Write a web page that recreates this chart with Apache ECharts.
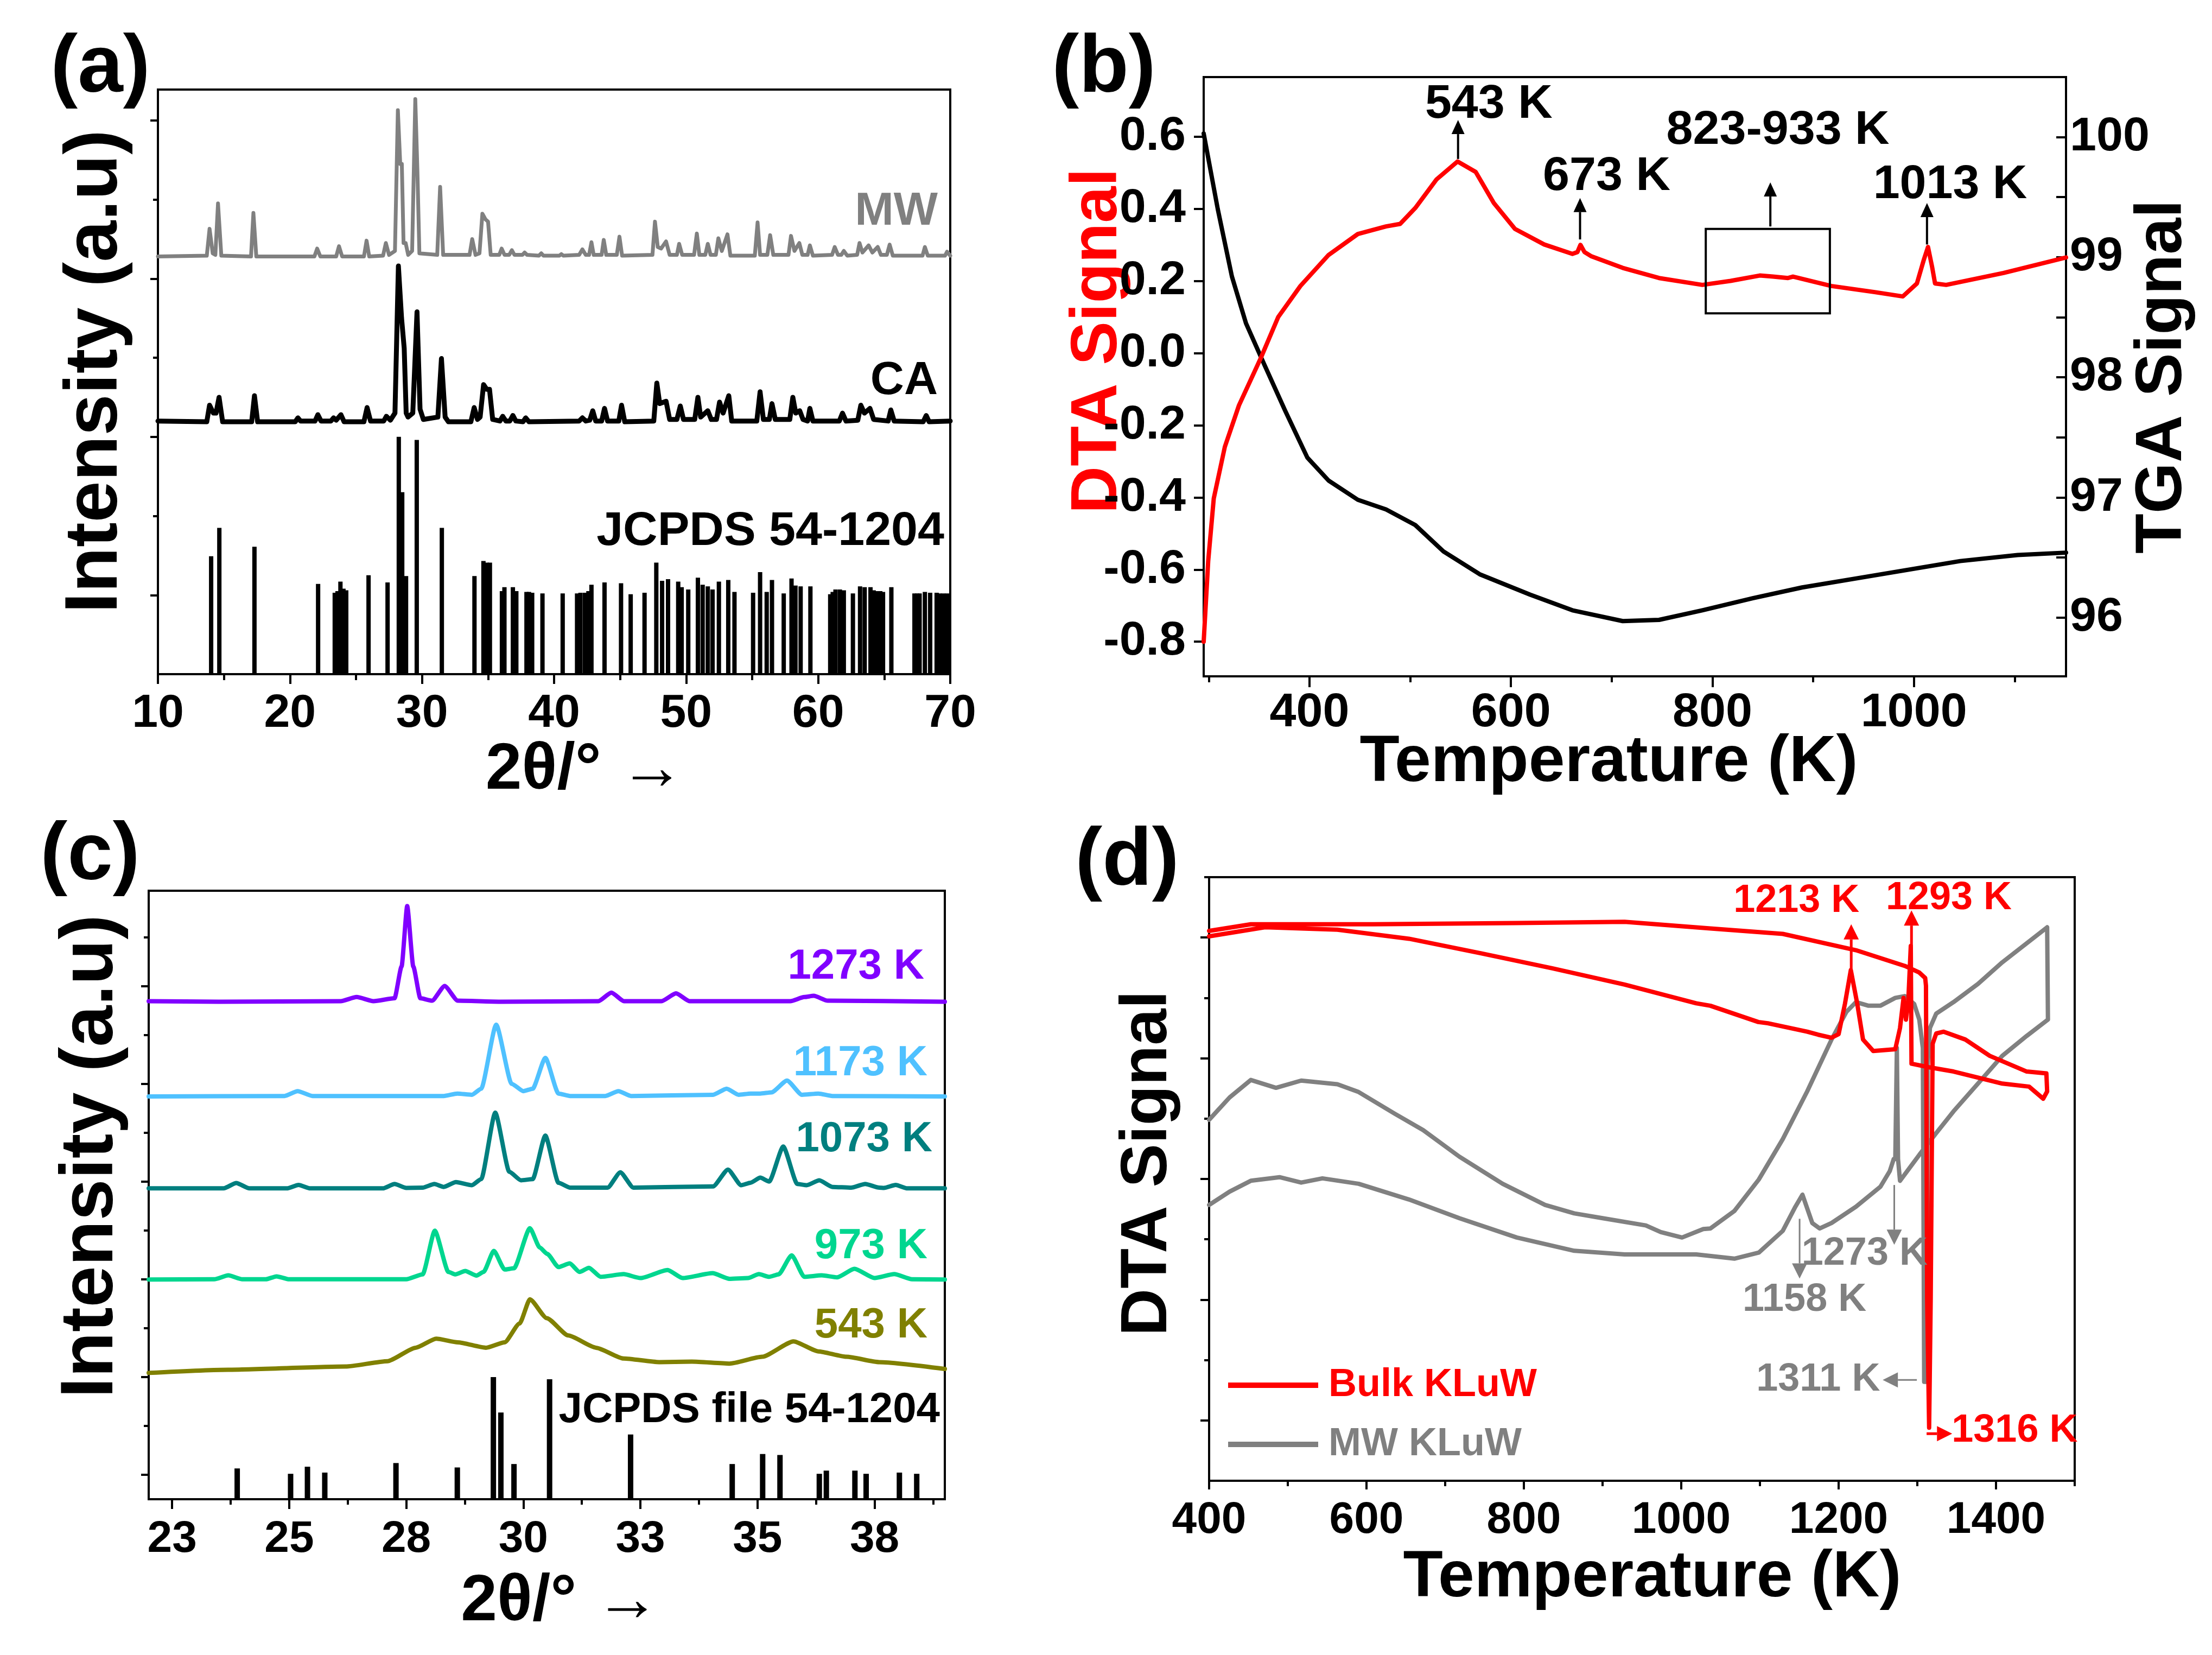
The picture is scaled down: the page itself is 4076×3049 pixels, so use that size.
<!DOCTYPE html>
<html>
<head>
<meta charset="utf-8">
<script src="https://cdn.jsdelivr.net/npm/echarts@6/dist/echarts.min.js"></script>
<style>
html,body{margin:0;padding:0;background:#fff;}
#main{width:4076px;height:3049px;}
</style>
</head>
<body>
<div id="main"></div>
<script>
const FONT = '"Liberation Sans", Arial, Helvetica, sans-serif';

// ---------------- Panel (a): XRD, MW / CA / JCPDS 54-1204 ----------------
const xTicksA = [10, 20, 30, 40, 50, 60, 70];
const xMinorA = [15, 25, 35, 45, 55, 65];
const xrdMW = [[10,5.28],[13.7,5.29],[13.91,5.63],[14.15,5.32],[14.35,5.3],[14.55,5.95],[14.8,5.29],[17.05,5.28],[17.23,5.83],[17.45,5.28],[21.85,5.28],[22.06,5.38],[22.3,5.28],[23.5,5.28],[23.71,5.41],[23.95,5.28],[25.6,5.28],[25.8,5.48],[26.0,5.28],[27.05,5.29],[27.26,5.45],[27.5,5.3],[27.95,5.35],[28.17,7.13],[28.35,6.45],[28.47,6.45],[28.6,5.45],[28.76,5.45],[28.95,5.3],[29.25,5.35],[29.49,7.27],[29.65,6.36],[29.8,5.32],[31.15,5.3],[31.37,6.16],[31.6,5.3],[33.6,5.3],[33.8,5.5],[34.05,5.3],[34.35,5.32],[34.57,5.82],[34.8,5.75],[35.0,5.72],[35.2,5.3],[35.85,5.3],[36.03,5.38],[36.25,5.3],[36.6,5.3],[36.8,5.36],[37.0,5.3],[37.6,5.3],[37.77,5.33],[37.95,5.3],[38.85,5.29],[39.03,5.32],[39.2,5.29],[40.4,5.29],[40.55,5.31],[40.7,5.29],[41.9,5.3],[42.14,5.37],[42.4,5.3],[42.65,5.3],[42.83,5.46],[43.0,5.3],[43.6,5.3],[43.76,5.49],[43.95,5.3],[44.75,5.3],[44.95,5.53],[45.15,5.29],[47.45,5.3],[47.64,5.72],[47.85,5.4],[48.1,5.38],[48.48,5.47],[48.75,5.3],[49.3,5.3],[49.47,5.44],[49.7,5.3],[50.6,5.3],[50.81,5.57],[51.0,5.3],[51.45,5.3],[51.64,5.44],[51.85,5.3],[52.25,5.3],[52.44,5.51],[52.7,5.35],[53.13,5.56],[53.35,5.29],[55.2,5.29],[55.41,5.71],[55.6,5.3],[56.15,5.3],[56.36,5.55],[56.6,5.3],[57.75,5.3],[57.94,5.54],[58.2,5.35],[58.57,5.45],[58.8,5.3],[59.2,5.3],[59.37,5.42],[59.6,5.29],[61.05,5.3],[61.25,5.4],[61.5,5.3],[61.75,5.3],[61.94,5.35],[62.2,5.29],[62.95,5.3],[63.13,5.45],[63.35,5.33],[63.82,5.42],[64.1,5.33],[64.51,5.4],[64.75,5.3],[65.2,5.3],[65.41,5.43],[65.65,5.29],[67.9,5.29],[68.08,5.4],[68.3,5.29],[69.6,5.29],[69.76,5.34],[70,5.29]];
const xrdCA = [[10,3.2],[13.7,3.19],[13.91,3.40],[14.2,3.3],[14.4,3.3],[14.63,3.50],[14.9,3.19],[17.1,3.19],[17.31,3.52],[17.55,3.19],[20.4,3.19],[20.6,3.24],[20.8,3.2],[21.9,3.2],[22.11,3.28],[22.35,3.2],[23.1,3.2],[23.3,3.24],[23.5,3.21],[23.86,3.28],[24.1,3.19],[25.6,3.19],[25.84,3.37],[26.1,3.2],[27.1,3.2],[27.3,3.26],[27.6,3.21],[27.95,3.3],[28.21,5.16],[28.45,4.5],[28.65,4.12],[28.8,3.3],[28.94,3.25],[29.3,3.3],[29.62,4.58],[29.85,3.35],[30.1,3.22],[31.2,3.25],[31.47,3.99],[31.75,3.25],[32.0,3.19],[33.7,3.19],[33.95,3.37],[34.2,3.22],[34.4,3.25],[34.66,3.66],[34.9,3.6],[35.11,3.60],[35.35,3.22],[35.9,3.2],[36.11,3.26],[36.35,3.2],[36.65,3.2],[36.88,3.27],[37.1,3.2],[37.65,3.19],[37.85,3.24],[38.1,3.19],[41.9,3.2],[42.14,3.24],[42.4,3.2],[42.7,3.21],[42.93,3.33],[43.15,3.2],[43.6,3.2],[43.82,3.36],[44.05,3.2],[44.9,3.2],[45.11,3.40],[45.35,3.19],[47.55,3.2],[47.78,3.68],[48.0,3.42],[48.48,3.45],[48.75,3.22],[49.3,3.22],[49.56,3.39],[49.8,3.22],[50.65,3.22],[50.89,3.50],[51.1,3.25],[51.64,3.33],[51.9,3.22],[52.3,3.22],[52.53,3.44],[52.8,3.3],[53.23,3.52],[53.45,3.2],[55.35,3.2],[55.6,3.57],[55.85,3.22],[56.3,3.22],[56.5,3.42],[56.75,3.22],[57.85,3.22],[58.08,3.50],[58.3,3.3],[58.6,3.33],[58.85,3.22],[59.2,3.2],[59.37,3.36],[59.6,3.2],[61.6,3.2],[61.84,3.30],[62.1,3.2],[63.0,3.21],[63.23,3.40],[63.5,3.3],[63.92,3.36],[64.2,3.22],[65.3,3.2],[65.5,3.34],[65.75,3.2],[67.95,3.19],[68.18,3.27],[68.4,3.19],[70,3.2]];
const jcpdsA = [[14.03,1.49],[14.65,1.85],[17.31,1.61],[22.13,1.14],[23.39,1.03],[23.6,1.05],[23.82,1.17],[24.05,1.08],[24.26,1.06],[25.95,1.25],[27.39,1.16],[28.24,3.0],[28.5,2.30],[28.79,1.24],[29.6,2.96],[31.5,1.85],[33.97,1.24],[34.65,1.43],[34.9,1.41],[35.14,1.41],[36.05,1.05],[36.24,1.10],[36.88,1.10],[37.14,1.05],[37.91,1.04],[38.1,1.04],[38.34,1.03],[39.12,1.02],[40.65,1.02],[41.74,1.02],[42.0,1.03],[42.34,1.03],[42.6,1.05],[42.83,1.13],[43.82,1.16],[45.07,1.15],[45.8,1.01],[46.85,1.03],[47.74,1.41],[48.18,1.18],[48.63,1.20],[49.4,1.17],[49.66,1.10],[50.16,1.07],[50.89,1.22],[51.25,1.13],[51.64,1.11],[52.0,1.07],[52.48,1.17],[53.19,1.19],[53.66,1.04],[55.07,1.03],[55.6,1.29],[56.1,1.04],[56.5,1.19],[57.39,1.02],[57.98,1.21],[58.28,1.12],[58.67,1.11],[59.41,1.11],[60.91,1.01],[61.1,1.04],[61.31,1.07],[61.64,1.07],[61.94,1.06],[62.63,1.02],[63.17,1.11],[63.52,1.10],[63.96,1.10],[64.2,1.06],[64.42,1.05],[64.7,1.05],[64.91,1.04],[65.54,1.10],[67.29,1.02],[67.5,1.02],[67.68,1.02],[68.08,1.04],[68.48,1.03],[68.97,1.03],[69.2,1.02],[69.47,1.02],[69.76,1.02]];
const yTicksA = [1, 3, 5, 7];
const yMinorA = [2, 4, 6];

// ---------------- Panel (b): DTA / TGA ----------------
const xTicksB = [400, 600, 800, 1000];
const xMinorB = [300, 500, 700, 900, 1100];
const dtaTicks = [-0.8, -0.6, -0.4, -0.2, 0, 0.2, 0.4, 0.6];
const tgaLabels = [96, 97, 98, 99, 100];
const tgaTicks = [96, 96.5, 97, 97.5, 98, 98.5, 99, 99.5, 100];
const dtaB = [[295,-0.80],[299.5,-0.576],[305,-0.403],[316,-0.26],[330,-0.145],[351.5,-0.015],[369,0.10],[391,0.186],[419,0.272],[448,0.33],[476,0.351],[490,0.358],[505,0.402],[526,0.481],[547,0.531],[565,0.502],[583,0.416],[604,0.344],[633,0.301],[661,0.275],[666,0.28],[669,0.30],[673,0.28],[680,0.268],[711,0.236],[747,0.208],[790,0.189],[818,0.20],[847,0.215],[860,0.212],[875,0.208],[880,0.212],[918,0.186],[961,0.169],[989,0.157],[1003,0.193],[1010,0.26],[1014,0.294],[1018,0.24],[1021,0.193],[1032,0.189],[1089,0.222],[1151,0.265]];
const tgaB = [[295,100.03],[309,99.40],[323,98.84],[337,98.45],[355,98.11],[376,97.72],[398,97.33],[419,97.14],[448,96.98],[476,96.90],[505,96.77],[533,96.55],[569,96.36],[619,96.19],[661,96.06],[711,95.97],[747,95.98],[790,96.06],[840,96.16],[889,96.25],[946,96.33],[996,96.40],[1046,96.47],[1103,96.52],[1151,96.54]];
const annotB = [
  {text: '543 K', at: [578, 0.689], from: [547.5, 0.538], to: [547.5, 0.646]},
  {text: '673 K', at: [695, 0.488], from: [668.6, 0.315], to: [668.6, 0.430]},
  {text: '823-933 K', at: [865, 0.617], from: [857.5, 0.351], to: [857.5, 0.473]},
  {text: '1013 K', at: [1036, 0.466], from: [1013, 0.301], to: [1013, 0.416]}
];
const boxB = [[793.4, 0.344], [916.6, 0.110]];

// ---------------- Panel (c): XRD vs annealing temperature ----------------
const xTicksC = [22.5, 25, 27.5, 30, 32.5, 35, 37.5];
const xMinorC = [23.75, 26.25, 28.75, 31.25, 33.75, 36.25, 38.75];
const yTicksC = [1, 5, 9, 13, 17, 21];
const yMinorC = [3, 7, 11, 15, 19, 23];
const xrd1273 = [[22,20.38],[23.5,20.36],[26.1,20.38],[26.44,20.55],[26.8,20.38],[27.25,20.5],[27.4,21.8],[27.52,24.27],[27.65,21.8],[27.8,20.5],[28.05,20.4],[28.32,21.0],[28.6,20.4],[29.5,20.36],[31.6,20.38],[31.88,20.73],[32.15,20.38],[32.95,20.38],[33.26,20.7],[33.55,20.38],[35.7,20.38],[36.0,20.55],[36.2,20.6],[36.5,20.4],[39,20.36]];
const xrd1173 = [[22,16.48],[24.9,16.5],[25.18,16.7],[25.5,16.5],[28.3,16.5],[28.59,16.6],[28.9,16.55],[29.1,16.8],[29.42,19.42],[29.75,17.0],[30.0,16.7],[30.2,16.8],[30.47,18.06],[30.75,16.6],[31.0,16.5],[31.75,16.5],[32.03,16.7],[32.3,16.5],[34.05,16.55],[34.34,16.8],[34.6,16.55],[34.85,16.6],[35.06,16.6],[35.3,16.65],[35.63,17.13],[35.95,16.55],[36.3,16.6],[36.6,16.5],[39,16.48]];
const xrd1073 = [[22,12.72],[23.6,12.72],[23.87,12.94],[24.15,12.72],[24.95,12.72],[25.2,12.86],[25.45,12.72],[27.0,12.72],[27.25,12.9],[27.5,12.74],[27.85,12.75],[28.1,12.9],[28.3,12.78],[28.56,12.98],[28.9,12.85],[29.1,13.1],[29.40,15.82],[29.7,13.4],[29.95,13.05],[30.2,13.1],[30.47,14.88],[30.75,12.95],[31.0,12.75],[31.8,12.75],[32.07,13.38],[32.35,12.75],[34.05,12.8],[34.37,13.49],[34.65,12.85],[34.85,12.95],[35.06,13.16],[35.25,13.0],[35.55,14.43],[35.85,12.9],[36.05,12.85],[36.32,13.05],[36.6,12.78],[37.0,12.75],[37.3,12.9],[37.6,12.75],[37.7,12.74],[37.95,12.86],[38.2,12.72],[39,12.72]];
const xrd973 = [[22,8.99],[23.4,9.0],[23.7,9.16],[24.0,9.0],[24.5,9.0],[24.73,9.12],[25.0,9.0],[27.5,9.0],[27.85,9.2],[28.11,10.99],[28.4,9.3],[28.55,9.2],[28.76,9.34],[29.0,9.15],[29.15,9.3],[29.37,10.16],[29.6,9.4],[29.8,9.45],[30.14,11.09],[30.35,10.3],[30.51,10.04],[30.75,9.5],[30.99,9.65],[31.2,9.3],[31.4,9.47],[31.65,9.1],[32.14,9.21],[32.5,9.05],[33.08,9.38],[33.4,9.05],[34.04,9.25],[34.4,9.02],[34.8,9.05],[35.03,9.21],[35.25,9.1],[35.45,9.2],[35.73,9.98],[36.0,9.1],[36.37,9.16],[36.7,9.08],[37.07,9.43],[37.5,9.05],[37.92,9.21],[38.3,9.0],[39,8.99]];
const xrd543 = [[22,5.17],[23.7,5.30],[26.2,5.43],[27.1,5.65],[27.7,6.2],[28.14,6.57],[28.6,6.42],[29.2,6.2],[29.6,6.42],[29.92,7.19],[30.14,8.18],[30.5,7.41],[30.96,6.7],[31.55,6.2],[32.14,5.76],[32.9,5.61],[33.6,5.63],[34.4,5.55],[35.1,5.83],[35.77,6.46],[36.3,6.05],[36.9,5.83],[37.6,5.61],[39,5.33]];
const jcpdsC = [[23.89,1.26],[25.03,1.04],[25.39,1.33],[25.76,1.09],[27.28,1.48],[28.59,1.30],[29.36,5.0],[29.52,3.55],[29.8,1.44],[30.56,4.91],[32.29,2.65],[34.46,1.44],[35.11,1.85],[35.48,1.81],[36.32,1.04],[36.47,1.17],[37.08,1.17],[37.32,1.04],[38.03,1.09],[38.4,1.04]];
const namesC = ['1273 K', '1173 K', '1073 K', '973 K', '543 K'];
const colorsC = ['#8000FF', '#4FC1FF', '#007F7F', '#00D68F', '#808000'];

// ---------------- Panel (d): DTA of bulk and MW KLuW ----------------
const xTicksD = [400, 600, 800, 1000, 1200, 1400];
const xMinorD = [500, 700, 900, 1100, 1300, 1500];
const yTicksD = [1, 3, 5, 7, 9];
const yMinorD = [2, 4, 6, 8, 10];
const bulkD = [[400,9.02],[471,9.17],[563,9.13],[654,8.98],[745,8.74],[836,8.49],[928,8.22],[1019,7.91],[1037,7.87],[1098,7.60],[1110,7.58],[1160,7.44],[1174,7.39],[1191,7.34],[1200,7.40],[1208,7.90],[1215.5,8.46],[1223.7,7.90],[1231,7.31],[1244,7.12],[1272,7.15],[1278,7.50],[1282.5,8.0],[1285.5,7.64],[1288.6,7.97],[1291.7,8.86],[1292.6,6.91],[1315,6.85],[1346,6.78],[1408,6.58],[1442,6.53],[1460,6.33],[1465,6.45],[1464,6.75],[1439,6.78],[1392,7.04],[1361,7.31],[1333.5,7.44],[1324,7.41],[1319.5,7.24],[1317,3.0],[1315,0.88],[1312.5,3.0],[1311,8.2],[1310,8.33],[1302.5,8.42],[1284,8.53],[1222,8.79],[1129,9.06],[1037,9.15],[928,9.26],[791,9.24],[608,9.22],[453,9.22],[400,9.11]];
const mwD = [[400,5.98],[426,6.35],[453,6.64],[485,6.51],[517,6.63],[563,6.57],[590,6.44],[636,6.08],[672,5.81],[718,5.37],[773,4.92],[827,4.57],[864,4.43],[900,4.35],[955,4.23],[974,4.12],[1001,4.03],[1028,4.17],[1037,4.18],[1067.5,4.47],[1098.5,4.99],[1129,5.66],[1160,6.45],[1191,7.31],[1210,7.77],[1222,7.93],[1238,7.87],[1253,7.87],[1272,8.0],[1284,8.03],[1296,7.90],[1302.5,7.64],[1307,7.17],[1308.7,1.64],[1312,1.64],[1313,6.84],[1316,7.50],[1324,7.74],[1346,7.93],[1377,8.23],[1408,8.59],[1465,9.17],[1466,7.64],[1439,7.37],[1408,7.04],[1377,6.58],[1346,6.12],[1324,5.76],[1302.5,5.40],[1278,4.97],[1275.5,5.33],[1274,7.17],[1272,5.33],[1270,5.33],[1265,5.13],[1253,4.87],[1222,4.54],[1191,4.27],[1176,4.18],[1166.5,4.27],[1154,4.74],[1145,4.54],[1129,4.14],[1098.5,3.78],[1067.5,3.68],[1019,3.75],[928,3.75],[864,3.81],[791,4.03],[718,4.35],[654,4.66],[590,4.92],[544,5.01],[517,4.94],[489.5,5.03],[453,4.97],[426,4.79],[400,4.57]];
const annotD = [
  {text: '1213 K', at: [1146.4, 9.60], from: [1216, 8.46], to: [1216, 9.22], color: '#FF0000'},
  {text: '1293 K', at: [1340, 9.65], from: [1292.6, 8.86], to: [1292.6, 9.45], color: '#FF0000'},
  {text: '1273 K', at: [1233, 3.76], from: [1270.7, 4.90], to: [1270.7, 3.91], color: '#808080'},
  {text: '1158 K', at: [1156.6, 2.99], from: [1150.4, 4.34], to: [1150.4, 3.35], color: '#808080'},
  {text: '1311 K', at: [1174, 1.67], from: [1299.4, 1.67], to: [1256, 1.67], color: '#808080'},
  {text: '1316 K', at: [1423.7, 0.83], from: [1311.8, 0.78], to: [1344.3, 0.78], color: '#FF0000'}
];

// ---------------- helpers ----------------
function mainX(grid, min, max, ticks, fontSize, margin, name, nameGap, namePad, tickLen, fmt) {
  return {
    type: 'value', gridIndex: grid, min: min, max: max, position: 'bottom',
    axisLine: {show: true, onZero: false, lineStyle: {color: '#000', width: 4}},
    axisTick: {show: true, inside: false, length: tickLen, customValues: ticks, lineStyle: {color: '#000', width: 4}},
    axisLabel: {show: true, customValues: ticks, fontSize: fontSize, fontWeight: 'bold', fontFamily: FONT, color: '#000', margin: margin, formatter: fmt || (v => String(v))},
    splitLine: {show: false},
    name: name, nameLocation: 'middle', nameGap: nameGap, nameMoveOverlap: false,
    nameTextStyle: {fontSize: 120, fontWeight: 'bold', fontFamily: FONT, color: '#000', lineHeight: 120, padding: namePad}
  };
}
function minorAxis(grid, min, max, ticks, len, pos, inside) {
  return {
    type: 'value', gridIndex: grid, min: min, max: max, position: pos,
    axisLine: {show: false, onZero: false},
    axisTick: {show: true, inside: !!inside, length: len, customValues: ticks, lineStyle: {color: '#000', width: 4}},
    axisLabel: {show: false}, splitLine: {show: false}
  };
}
function mainY(grid, min, max, ticks, pos, opts) {
  const o = opts || {};
  return {
    type: 'value', gridIndex: grid, min: min, max: max, position: pos,
    axisLine: {show: true, onZero: false, lineStyle: {color: '#000', width: 4}},
    axisTick: {show: true, inside: !!o.inside, length: o.tickLen || 16, customValues: ticks, lineStyle: {color: '#000', width: 4}},
    axisLabel: o.labels ? {show: true, customValues: o.labels, fontSize: o.fontSize, fontWeight: 'bold', fontFamily: FONT, color: '#000', margin: o.margin, formatter: o.fmt || (v => String(v))} : {show: false},
    splitLine: {show: false},
    name: o.name, nameLocation: 'middle', nameGap: o.nameGap, nameRotate: 90, nameMoveOverlap: false,
    nameTextStyle: {fontSize: o.nameSize || 121, fontWeight: 'bold', fontFamily: FONT, color: o.nameColor || '#000', lineHeight: o.nameSize || 121, padding: o.namePad || 0}
  };
}
function lineS(name, xi, yi, data, color, width, smooth) {
  return {type: 'line', name: name, xAxisIndex: xi, yAxisIndex: yi, data: data, color: color,
    showSymbol: false, symbol: 'none', smooth: smooth || false, smoothMonotone: smooth ? 'x' : undefined,
    lineStyle: {color: color, width: width, join: 'round', cap: 'round'}, z: 3};
}
function barS(name, xi, yi, data, width) {
  return {type: 'bar', name: name, xAxisIndex: xi, yAxisIndex: yi, data: data, barWidth: width,
    itemStyle: {color: '#000'}, z: 2};
}

const gridBase = {show: true, borderColor: '#000', borderWidth: 4, backgroundColor: 'transparent', containLabel: false, outerBoundsMode: 'none'};

const option = {
  animation: false,
  backgroundColor: '#fff',
  textStyle: {fontFamily: FONT},
  grid: [
    Object.assign({left: 291, top: 165, width: 1460, height: 1077}, gridBase),
    Object.assign({left: 2218, top: 142, width: 1589, height: 1104}, gridBase),
    Object.assign({left: 274, top: 1641, width: 1467, height: 1121}, gridBase),
    Object.assign({left: 2228, top: 1616, width: 1595, height: 1112}, gridBase)
  ],
  xAxis: [
    mainX(0, 10, 70, xTicksA, 86, 30, '2θ/° →', 118, [0, 0, 0, 114], 18),
    mainX(1, 295, 1151, xTicksB, 88, 24, 'Temperature (K)', 100, [0, 96, 0, 0], 20),
    mainX(2, 22, 39, xTicksC, 82, 33, '2θ/° →', 130, [0, 0, 0, 50], 18, v => String(Math.round(v))),
    mainX(3, 400, 1500, xTicksD, 82, 32, 'Temperature (K)', 120, [0, 0, 0, 38], 16),
    minorAxis(0, 10, 70, xMinorA, 11, 'bottom'),
    minorAxis(1, 295, 1151, xMinorB, 11, 'bottom'),
    minorAxis(2, 22, 39, xMinorC, 10, 'bottom'),
    minorAxis(3, 400, 1500, xMinorD, 10, 'bottom')
  ],
  yAxis: [
    mainY(0, 0, 7.39, yTicksA, 'left', {tickLen: 14, name: 'Intensity (a.u)', nameGap: 45, nameSize: 137, namePad: [0, 0, 0, 38]}),
    mainY(1, -0.896, 0.765, dtaTicks, 'left', {tickLen: 18, labels: dtaTicks, fontSize: 88, margin: 33, fmt: v => v.toFixed(1), name: 'DTA Signal', nameGap: 134, nameColor: '#FF0000', namePad: [0, 0, 0, 132]}),
    mainY(1, 95.51, 100.5, tgaTicks, 'right', {tickLen: 18, inside: true, labels: tgaLabels, fontSize: 88, margin: 7, name: 'TGA Signal', nameGap: 118}),
    mainY(2, 0, 24.9, yTicksC, 'left', {tickLen: 14, name: 'Intensity (a.u)', nameGap: 36, nameSize: 137, namePad: [0, 0, 0, 142]}),
    mainY(3, 0, 10, yTicksD, 'left', {tickLen: 16, name: 'DTA Signal', nameGap: 52, namePad: [0, 0, 0, 58]}),
    minorAxis(0, 0, 7.39, yMinorA, 9, 'left'),
    minorAxis(2, 0, 24.9, yMinorC, 9, 'left'),
    minorAxis(3, 0, 10, yMinorD, 9, 'left')
  ],
  legend: {
    left: 2258, top: 2511, orient: 'vertical', icon: 'rect', itemWidth: 166, itemHeight: 10, itemGap: 37,
    selectedMode: false,
    textStyle: {fontSize: 72, fontWeight: 'bold', fontFamily: FONT, lineHeight: 72, padding: [0, 0, 0, 14]},
    data: [
      {name: 'Bulk KLuW', textStyle: {color: '#FF0000'}},
      {name: 'MW KLuW', textStyle: {color: '#808080'}}
    ]
  },
  series: [
    barS('JCPDS 54-1204', 0, 0, jcpdsA, 8),
    lineS('MW', 0, 0, xrdMW, '#808080', 7),
    lineS('CA', 0, 0, xrdCA, '#000000', 9),
    lineS('TGA', 1, 2, tgaB, '#000000', 8),
    lineS('DTA', 1, 1, dtaB, '#FF0000', 8),
    barS('JCPDS file 54-1204', 2, 3, jcpdsC, 10),
    lineS(namesC[0], 2, 3, xrd1273, colorsC[0], 8, 0.2),
    lineS(namesC[1], 2, 3, xrd1173, colorsC[1], 8, 0.2),
    lineS(namesC[2], 2, 3, xrd1073, colorsC[2], 8, 0.2),
    lineS(namesC[3], 2, 3, xrd973, colorsC[3], 8, 0.2),
    lineS(namesC[4], 2, 3, xrd543, colorsC[4], 8, 0.2),
    lineS('MW KLuW', 3, 4, mwD, '#808080', 8),
    lineS('Bulk KLuW', 3, 4, bulkD, '#FF0000', 8)
  ]
};

const chart = echarts.init(document.getElementById('main'), null, {renderer: 'canvas'});
chart.setOption(option);

// ---------------- annotations (placed through the axes) ----------------
function txt(text, x, y, size, color, align) {
  return {type: 'text', x: x, y: y, z: 100, silent: true,
    style: {text: text, fill: color, fontSize: size, fontWeight: 'bold', fontFamily: FONT, align: align || 'center', verticalAlign: 'middle'}};
}
function arrow(p1, p2, color, lw, hl, hw) {
  const dx = p2[0] - p1[0], dy = p2[1] - p1[1];
  const L = Math.hypot(dx, dy) || 1, ux = dx / L, uy = dy / L;
  const bx = p2[0] - ux * hl, by = p2[1] - uy * hl;
  return [
    {type: 'line', z: 100, silent: true, shape: {x1: p1[0], y1: p1[1], x2: bx, y2: by}, style: {stroke: color, lineWidth: lw}},
    {type: 'polygon', z: 100, silent: true, shape: {points: [[p2[0], p2[1]], [bx - uy * hw / 2, by + ux * hw / 2], [bx + uy * hw / 2, by - ux * hw / 2]]}, style: {fill: color}}
  ];
}
const finderB = {xAxisIndex: 1, yAxisIndex: 1};
const finderD = {xAxisIndex: 3, yAxisIndex: 4};
const els = [];
annotB.forEach(a => {
  const p = chart.convertToPixel(finderB, a.at);
  els.push(txt(a.text, p[0], p[1], 88, '#000'));
  els.push(...arrow(chart.convertToPixel(finderB, a.from), chart.convertToPixel(finderB, a.to), '#000', 4, 26, 24));
});
{
  const p1 = chart.convertToPixel(finderB, boxB[0]);
  const p2 = chart.convertToPixel(finderB, boxB[1]);
  els.push({type: 'rect', z: 100, silent: true,
    shape: {x: Math.min(p1[0], p2[0]), y: Math.min(p1[1], p2[1]), width: Math.abs(p2[0] - p1[0]), height: Math.abs(p2[1] - p1[1])},
    style: {stroke: '#000', fill: 'none', lineWidth: 4}});
}
annotD.forEach(a => {
  const p = chart.convertToPixel(finderD, a.at);
  els.push(txt(a.text, p[0], p[1], 72, a.color));
  els.push(...arrow(chart.convertToPixel(finderD, a.from), chart.convertToPixel(finderD, a.to), a.color, a.color === '#FF0000' ? 5 : 3, 28, 28));
});

// curve labels and panel letters (layout text)
els.push(txt('MW', 1728, 390, 86, '#808080', 'right'));
els.push(txt('CA', 1728, 702, 86, '#000', 'right'));
els.push(txt('JCPDS 54-1204', 1740, 980, 88, '#000', 'right'));
const labelYC = [1781, 1959, 2099, 2296, 2442];
const labelXC = [1703, 1709, 1718, 1709, 1709];
namesC.forEach((n, i) => els.push(txt(n, labelXC[i], labelYC[i], 78, colorsC[i], 'right')));
els.push(txt('JCPDS file 54-1204', 1732, 2598, 78, '#000', 'right'));
els.push(txt('(a)', 185, 128, 150, '#000'));
els.push(txt('(b)', 2034, 128, 150, '#000'));
els.push(txt('(c)', 166, 1579, 150, '#000'));
els.push(txt('(d)', 2077, 1589, 150, '#000'));

chart.setOption({graphic: {elements: els}});
</script>
</body>
</html>
